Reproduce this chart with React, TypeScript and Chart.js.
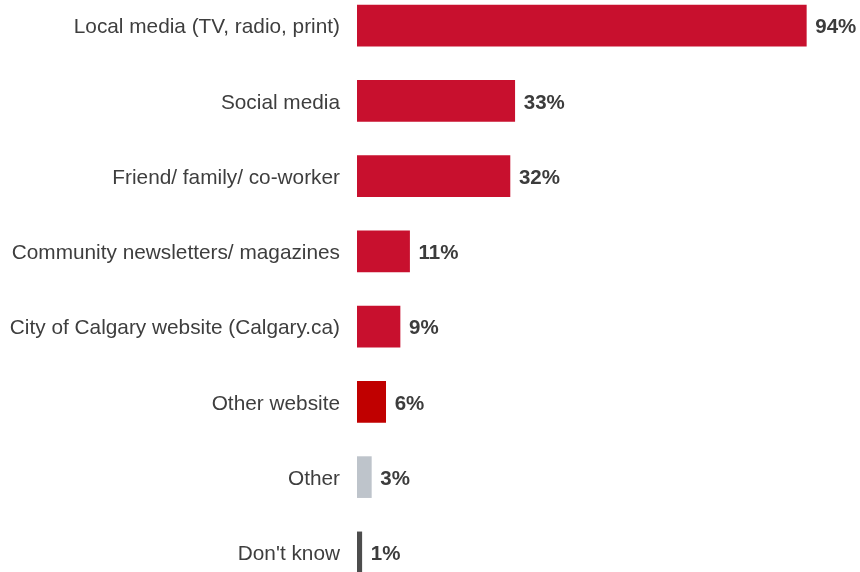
import React, { useEffect, useRef } from "react";
import { Chart, registerables } from "chart.js";

Chart.register(...registerables);

const categories = [
  "Local media (TV, radio, print)",
  "Social media",
  "Friend/ family/ co-worker",
  "Community newsletters/ magazines",
  "City of Calgary website (Calgary.ca)",
  "Other website",
  "Other",
  "Don't know",
];
const values = [94, 33, 32, 11, 9, 6, 3, 1];
const barColors = [
  "#C8102E",
  "#C8102E",
  "#C8102E",
  "#C8102E",
  "#C8102E",
  "#C00000",
  "#BEC4CB",
  "#4D4D4D",
];

const FONT = "'Liberation Sans', Arial, sans-serif";

const valueLabels = {
  id: "valueLabels",
  afterDatasetsDraw(chart: any) {
    const ctx = chart.ctx;
    const meta = chart.getDatasetMeta(0);
    ctx.save();
    ctx.font = `bold 20.5px ${FONT}`;
    ctx.fillStyle = "#3C3C3C";
    ctx.textAlign = "left";
    ctx.textBaseline = "middle";
    meta.data.forEach((bar: any, i: number) => {
      ctx.fillText(values[i] + "%", bar.x + 9, bar.y + 2);
    });
    ctx.restore();
  },
};

export default function App() {
  const ref = useRef<HTMLCanvasElement>(null);
  useEffect(() => {
    if (!ref.current) return;
    const chart = new Chart(ref.current, {
      type: "bar",
      data: {
        labels: categories,
        datasets: [
          {
            data: values,
            backgroundColor: barColors,
            borderWidth: 0,
            barThickness: 41,
          },
        ],
      },
      options: {
        indexAxis: "y",
        animation: false,
        responsive: false,
        maintainAspectRatio: false,
        layout: { padding: { left: 0, right: 25, top: 0, bottom: 0 } },
        plugins: {
          legend: { display: false },
          tooltip: { enabled: false },
        },
        scales: {
          x: {
            display: false,
            min: 0,
            max: 100,
          },
          y: {
            grid: { display: false, drawTicks: false },
            border: { display: false },
            ticks: {
              color: "#3E3E3E",
              font: { family: FONT, size: 20.8 },
              padding: 17,
              labelOffset: 2,
              autoSkip: false,
            },
            afterFit(scale: any) {
              scale.width = 357;
              scale.paddingTop = 0;
              scale.paddingBottom = 0;
            },
          },
        },
      },
      plugins: [valueLabels],
    });
    return () => chart.destroy();
  }, []);
  return (
    <div
      style={{
        position: "fixed",
        left: 0,
        top: -12,
        width: 860,
        height: 602,
        background: "#fff",
      }}
    >
      <canvas ref={ref} width={860} height={602} style={{ width: 860, height: 602, display: "block" }} />
    </div>
  );
}
